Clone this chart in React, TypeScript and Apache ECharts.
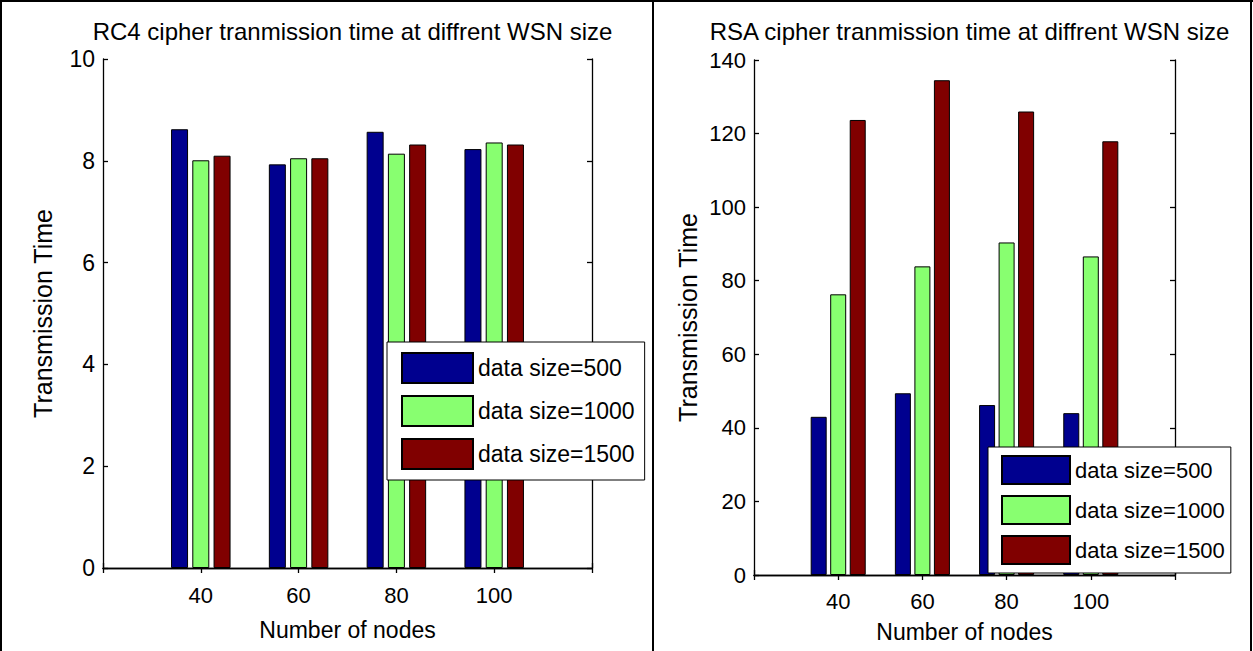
import React, { useEffect, useRef } from "react";
import * as echarts from "echarts";

const nodes = [40, 60, 80, 100];
const seriesNames = ["data size=500", "data size=1000", "data size=1500"];
const rc4_500 = [8.62, 7.93, 8.57, 8.23];
const rc4_1000 = [8.01, 8.05, 8.14, 8.36];
const rc4_1500 = [8.1, 8.05, 8.32, 8.32];
const rsa_500 = [43.0, 49.4, 46.2, 44.0];
const rsa_1000 = [76.3, 83.9, 90.4, 86.6];
const rsa_1500 = [123.7, 134.5, 126.0, 117.9];
const colors = ["#00008F", "#88FF70", "#800000"];
const titles = [
  "RC4 cipher tranmission time at diffrent WSN size",
  "RSA cipher tranmission time at diffrent WSN size",
];

const FONT = "'Liberation Sans', Arial, sans-serif";

export default function App() {
  const ref = useRef<HTMLDivElement>(null);
  useEffect(() => {
    if (!ref.current) return;
    const chart = echarts.init(ref.current, null, { renderer: "svg" });
    const rc4 = [rc4_500, rc4_1000, rc4_1500];
    const rsa = [rsa_500, rsa_1000, rsa_1500];

    const grids = [
      { left: 103, top: 59, width: 489, height: 509 },
      { left: 754, top: 60, width: 421, height: 515 },
    ];
    const yCfg = [
      { max: 10, interval: 2, nameGap: 48, labelSize: 23 },
      { max: 140, interval: 20, nameGap: 54, labelSize: 22 },
    ];
    const lineStyle = { color: "#000", width: 1.3 };
    const tick = { show: true, inside: true, length: 5, lineStyle: { color: "#000", width: 1.3 } };

    const xAxes: any[] = [];
    const yAxes: any[] = [];
    [0, 1].forEach((g) => {
      xAxes.push({
        type: "value",
        gridIndex: g,
        min: 20,
        max: 120,
        interval: 20,
        position: "bottom",
        name: "Number of nodes",
        nameLocation: "middle",
        nameGap: g === 0 ? 50 : 45,
        nameTextStyle: { fontSize: 23, color: "#000", fontFamily: FONT },
        axisLine: { show: true, lineStyle },
        axisTick: tick,
        splitLine: { show: false },
        axisLabel: {
          fontSize: 22,
          color: "#000",
          fontFamily: FONT,
          margin: g === 0 ? 16 : 15,
          formatter: (v: number) => (nodes.includes(v) ? String(v) : ""),
        },
      });
      xAxes.push({
        type: "value",
        gridIndex: g,
        min: 20,
        max: 120,
        interval: 20,
        position: "top",
        axisLine: { show: true, lineStyle },
        axisTick: tick,
        splitLine: { show: false },
        axisLabel: { show: false },
      });
      yAxes.push({
        type: "value",
        gridIndex: g,
        min: 0,
        max: yCfg[g].max,
        interval: yCfg[g].interval,
        position: "left",
        name: "Transmission Time",
        nameLocation: "middle",
        nameGap: yCfg[g].nameGap,
        nameTextStyle: { fontSize: 25, color: "#000", fontFamily: FONT },
        axisLine: { show: true, lineStyle },
        axisTick: tick,
        splitLine: { show: false },
        axisLabel: { fontSize: yCfg[g].labelSize, color: "#000", fontFamily: FONT, margin: 8 },
      });
      yAxes.push({
        type: "value",
        gridIndex: g,
        min: 0,
        max: yCfg[g].max,
        interval: yCfg[g].interval,
        position: "right",
        axisLine: { show: true, lineStyle },
        axisTick: tick,
        splitLine: { show: false },
        axisLabel: { show: false },
      });
    });

    const series: any[] = [];
    [rc4, rsa].forEach((set, g) => {
      set.forEach((vals, i) => {
        series.push({
          type: "bar",
          name: seriesNames[i],
          xAxisIndex: g * 2,
          yAxisIndex: g * 2,
          barWidth: g === 0 ? 17 : 16,
          barGap: g === 0 ? "25%" : "22%",
          itemStyle: { color: colors[i], borderColor: "#000", borderWidth: 1 },
          data: nodes.map((n, k) => [n, vals[k]]),
        });
      });
    });

    const legendBase = {
      data: seriesNames,
      orient: "vertical",
      icon: "rect",
      selectedMode: false,
      borderColor: "#000",
      borderWidth: 1,
      backgroundColor: "#fff",
    };

    chart.setOption({
      animation: false,
      backgroundColor: "#fff",
      title: [
        {
          text: titles[0],
          left: 347.5,
          top: 14,
          textAlign: "center",
          textStyle: { fontSize: 24, fontWeight: "normal", color: "#000", fontFamily: FONT },
        },
        {
          text: titles[1],
          left: 964.5,
          top: 14,
          textAlign: "center",
          textStyle: { fontSize: 24, fontWeight: "normal", color: "#000", fontFamily: FONT },
        },
      ],
      grid: grids,
      xAxis: xAxes,
      yAxis: yAxes,
      legend: [
        {
          ...legendBase,
          left: 387,
          top: 342,
          itemWidth: 71,
          itemHeight: 30,
          itemGap: 11,
          padding: [10, 10, 10, 14],
          textStyle: { fontSize: 23, color: "#000", fontFamily: FONT },
        },
        {
          ...legendBase,
          left: 988,
          top: 447,
          itemWidth: 68,
          itemHeight: 28,
          itemGap: 10,
          padding: [8, 6, 8, 13],
          textStyle: { fontSize: 22, color: "#000", fontFamily: FONT },
        },
      ],
      graphic: [
        { type: "line", shape: { x1: 0, y1: 1, x2: 1253, y2: 1 }, style: { stroke: "#000", lineWidth: 2 } },
        { type: "line", shape: { x1: 1, y1: 0, x2: 1, y2: 651 }, style: { stroke: "#000", lineWidth: 2 } },
        { type: "line", shape: { x1: 1251, y1: 0, x2: 1251, y2: 651 }, style: { stroke: "#000", lineWidth: 2 } },
        { type: "line", shape: { x1: 653, y1: 0, x2: 653, y2: 651 }, style: { stroke: "#000", lineWidth: 2 } },
      ],
      series,
    });
    return () => chart.dispose();
  }, []);

  return (
    <div
      ref={ref}
      style={{ position: "absolute", left: 0, top: 0, width: 1253, height: 651, background: "#fff" }}
    />
  );
}
